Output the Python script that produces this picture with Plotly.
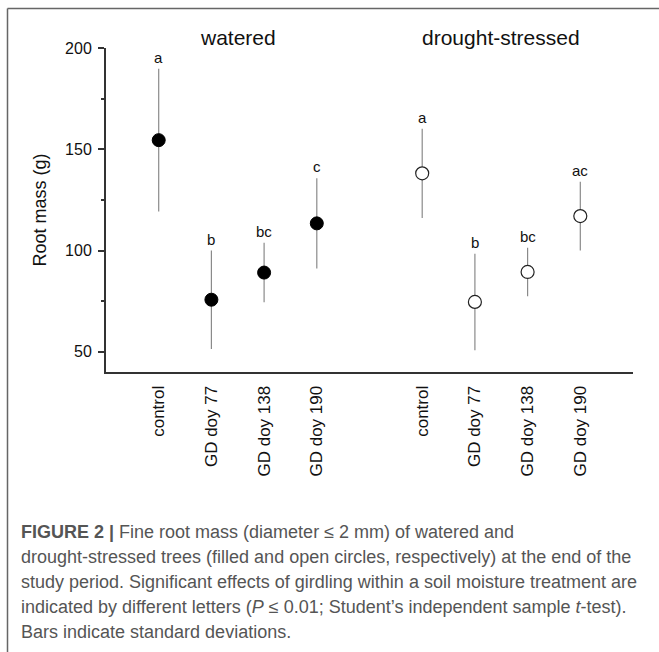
import plotly.graph_objects as go

# ---- data ----
categories = ["control", "GD doy 77", "GD doy 138", "GD doy 190"]
watered_mean = [154.5, 75.7, 89.1, 113.4]
watered_sd = [35.2, 24.3, 14.7, 22.3]
watered_letters = ["a", "b", "bc", "c"]
drought_mean = [138.1, 74.6, 89.4, 117.0]
drought_sd = [22.0, 23.8, 12.0, 17.0]
drought_letters = ["a", "b", "bc", "ac"]
group_titles = ["watered", "drought-stressed"]
y_ticks = [50, 100, 150, 200]
y_minor = [75, 125, 175]

W, H = 659, 652
L, R, T, B = 106, 26, 48, 280

def px(x):
    return (x - L) / (W - L - R)

def py(y):
    return (H - B - y) / (H - T - B)

FONT = "Liberation Sans, Arial, sans-serif"

fig = go.Figure()
fig.add_trace(go.Scatter(
    x=categories, y=watered_mean, mode="markers", xaxis="x", yaxis="y",
    marker=dict(size=13, color="black", line=dict(color="black", width=1)),
    error_y=dict(type="data", array=watered_sd, color="#8a8a8a", thickness=1.2, width=0),
    showlegend=False))
fig.add_trace(go.Scatter(
    x=categories, y=drought_mean, mode="markers", xaxis="x2", yaxis="y",
    marker=dict(size=13, color="white", line=dict(color="#222", width=1.2)),
    error_y=dict(type="data", array=drought_sd, color="#8a8a8a", thickness=1.2, width=0),
    showlegend=False))

ann = []
for xa, means, sds, lets in [("x", watered_mean, watered_sd, watered_letters),
                             ("x2", drought_mean, drought_sd, drought_letters)]:
    for c, m, s, l in zip(categories, means, sds, lets):
        ann.append(dict(x=c, y=m + s, xref=xa, yref="y", text=l, showarrow=False,
                        yanchor="bottom", yshift=1,
                        font=dict(family=FONT, size=15, color="#111")))
for i, t in enumerate(group_titles):
    ann.append(dict(x=0.25 + 0.5 * i, y=py(37.5), xref="paper", yref="paper", text=t,
                    showarrow=False, xanchor="center", yanchor="middle",
                    font=dict(family=FONT, size=21, color="#111")))

caption = [
    "<b>FIGURE 2 |</b> Fine root mass (diameter ≤ 2 mm) of watered and",
    "drought-stressed trees (filled and open circles, respectively) at the end of the",
    "study period. Significant effects of girdling within a soil moisture treatment are",
    "indicated by different letters (<i>P</i> ≤ 0.01; Student’s independent sample <i>t</i>-test).",
    "Bars indicate standard deviations.",
]
for i, line in enumerate(caption):
    ann.append(dict(x=px(19), y=py(532 + 25 * i), xref="paper", yref="paper", text=line,
                    showarrow=False, xanchor="left", yanchor="middle",
                    font=dict(family=FONT, size=18, color="#555")))

shapes = [
    dict(type="line", xref="paper", yref="paper", x0=px(7.5), x1=px(7.5), y0=py(H + 2), y1=py(8.5),
         line=dict(color="#666", width=1.5)),
    dict(type="line", xref="paper", yref="paper", x0=px(7.5), x1=px(W + 2), y0=py(8.5), y1=py(8.5),
         line=dict(color="#666", width=1.5)),
]

xcommon = dict(type="category", categoryorder="array", categoryarray=categories,
               range=[-1, 4], showline=True, linewidth=2, linecolor="#333", ticks="",
               tickangle=-90, ticklabelstandoff=5, showgrid=False, zeroline=False,
               tickfont=dict(family=FONT, size=17, color="#111"),
               anchor="y")

fig.update_layout(
    width=W, height=H, margin=dict(l=L, r=R, t=T, b=B),
    paper_bgcolor="white", plot_bgcolor="white",
    xaxis=dict(domain=[0, 0.5], **xcommon),
    xaxis2=dict(domain=[0.5, 1], **xcommon),
    yaxis=dict(range=[40, 200], tickvals=y_ticks, ticks="outside", ticklen=6, tickwidth=1.5,
               tickcolor="#333", showline=True, linewidth=2, linecolor="#333",
               showgrid=False, zeroline=False, ticklabelstandoff=3,
               minor=dict(tickvals=y_minor, ticks="outside", ticklen=3, tickwidth=1.5, tickcolor="#333"),
               tickfont=dict(family=FONT, size=16, color="#111"),
               title=dict(text="Root mass (g)", standoff=14,
                          font=dict(family=FONT, size=18, color="#111"))),
    annotations=ann, shapes=shapes,
)

fig.write_html("out.html")
